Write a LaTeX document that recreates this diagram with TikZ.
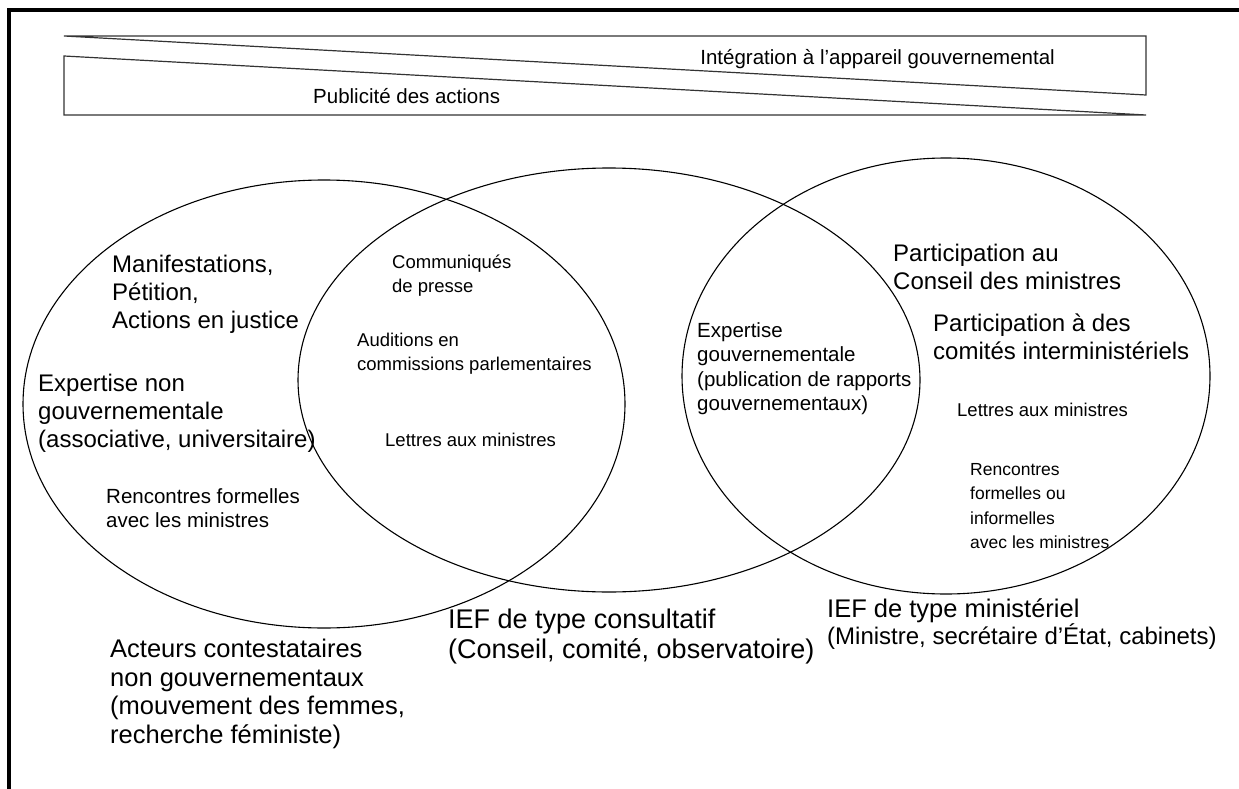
\documentclass[tikz,border=0pt]{standalone}
\usepackage{fontspec}
\setmainfont{Liberation Sans}
\usetikzlibrary{shapes.geometric,positioning}

\begin{document}
\begin{tikzpicture}[x=1pt,y=-1pt,
  big/.style={anchor=north west,inner sep=0pt,align=left,font=\fontsize{24}{28}\selectfont},
  small/.style={anchor=north west,inner sep=0pt,align=left,font=\fontsize{20.5}{24.5}\selectfont},
  tiny/.style={anchor=north west,inner sep=0pt,align=left,font=\fontsize{18.5}{24}\selectfont},
  title/.style={anchor=north west,inner sep=0pt,align=left,font=\fontsize{25.5}{28.5}\selectfont},
  wedge/.style={draw=black!80,line width=1.2pt,line join=miter},
  set/.style={ellipse,draw,line width=1.1pt,inner sep=0pt}]

  \useasboundingbox (0,0) rectangle (1239,789);
  \draw[line width=4pt] (9,789) -- (9,10) -- (1239,10);

  % the two wedges
  \draw[wedge] (64,36) -- (1146,36) -- (1146,95) -- cycle;
  \draw[wedge] (64,56) -- (1146,115) -- (64,115) -- cycle;
  \node[small,anchor=base east] (integ) at (1055,65) {Intégration à l’appareil gouvernemental};
  \node[small,anchor=base west] (pub) at (313,104) {Publicité des actions};

  % the three sets
  \node[set,minimum width=602pt,minimum height=448pt] (acteurs) at (324,404) {};
  \node[set,minimum width=622pt,minimum height=424pt] (consult) at (609,380) {};
  \node[set,minimum width=528pt,minimum height=436pt] (minist) at (946,376) {};

  % inside the sets
  \node[big] (manif) at (112,255) {Manifestations,\\Pétition,\\Actions en justice};
  \node[big] (expng) at (38,374) {Expertise non\\gouvernementale\\(associative, universitaire)};
  \node[small] (renc1) at (106,488) {Rencontres formelles\\avec les ministres};

  \node[tiny] (comm) at (392,255) {Communiqués\\de presse};
  \node[tiny] (audit) at (357,333) {Auditions en\\commissions parlementaires};
  \node[tiny] (lettr1) at (385,433) {Lettres aux ministres};

  \node[small] (expg) at (697,322) {Expertise\\gouvernementale\\(publication de rapports\\gouvernementaux)};

  \node[big] (conseil) at (893,244) {Participation au\\Conseil des ministres};
  \node[big] (comites) at (933,314) {Participation à des\\comités interministériels};
  \node[tiny] (lettr2) at (957,403) {Lettres aux ministres};
  \node[tiny,font=\fontsize{17.5}{24.5}\selectfont] (renc2) at (970,463) {Rencontres\\formelles ou\\informelles\\avec les ministres};

  % names of the sets
  \node[title] (nacteurs) at (110,639) {Acteurs contestataires\\non gouvernementaux\\(mouvement des femmes,\\recherche féministe)};
  \node[title,font=\fontsize{27}{29.5}\selectfont] (nconsult) at (448,609) {IEF de type consultatif\\(Conseil, comité, observatoire)};
  \node[title] (nminist) at (827,599) {IEF de type ministériel};
  \node[big,anchor=base west] (nminist2) at (827,644) {(Ministre, secrétaire d’État, cabinets)};
\end{tikzpicture}
\end{document}
